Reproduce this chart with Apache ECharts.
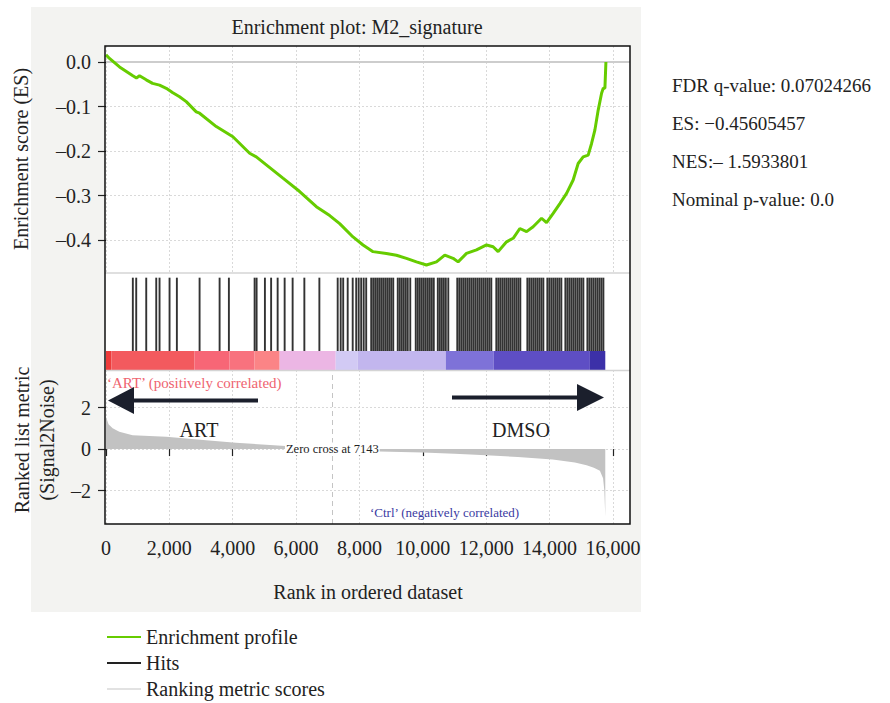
<!DOCTYPE html>
<html><head><meta charset="utf-8">
<script src="https://cdn.jsdelivr.net/npm/echarts@6/dist/echarts.min.js"></script>
<style>html,body{margin:0;padding:0;background:#fff;}#c{width:890px;height:703px;}</style>
</head><body><div id="c"></div>
<script>
// ---------- data ----------
const esRank = [0,110,427,847,960,1058,1270,1470,1690,1902,2110,2322,2533,2849,2954,3481,4006,4533,4744,5060,5585,6113,6640,7061,7376,7797,8113,8429,8851,9167,9483,9799,10115,10431,10693,10956,11114,11379,11695,12011,12220,12378,12643,12852,13063,13275,13483,13748,13906,14115,14326,14538,14746,14904,15062,15220,15327,15431,15536,15643,15695,15748,15780];
const esValue = [0.016,0.008,-0.011,-0.031,-0.036,-0.031,-0.040,-0.048,-0.052,-0.059,-0.069,-0.078,-0.089,-0.112,-0.115,-0.145,-0.168,-0.205,-0.213,-0.231,-0.261,-0.291,-0.325,-0.345,-0.363,-0.393,-0.411,-0.426,-0.430,-0.434,-0.441,-0.449,-0.456,-0.449,-0.434,-0.441,-0.449,-0.430,-0.422,-0.411,-0.415,-0.426,-0.404,-0.396,-0.374,-0.381,-0.370,-0.351,-0.361,-0.340,-0.318,-0.295,-0.265,-0.228,-0.213,-0.209,-0.183,-0.153,-0.108,-0.070,-0.059,-0.059,0.000];
const hitRanks = [847,954,1270,1586,1690,2006,2237,2954,3586,3879,4691,4754,5016,5212,5418,5639,5891,6261,6735,7313,7408,7487,7629,7787,
7898,7976,8055,8134,8213,8371,8435,8498,8561,8624,8687,8750,8814,8877,8940,9003,9067,9209,9272,9335,9398,9462,9525,9604,
9777,9841,9904,9967,10030,10093,10157,10220,10283,10346,10473,10536,10599,10662,10726,10804,
11088,11152,11215,11278,11341,11405,11468,11531,11594,11657,11721,11784,11847,11910,11973,12036,12099,12162,
12320,12383,12446,12510,12573,12636,12699,12762,12826,12889,12952,13015,13078,
13300,13363,13426,13489,13552,13615,13678,13742,13805,13931,13994,14058,14121,14184,14247,14310,14373,
14500,14563,14626,14689,14752,14815,14879,14942,15005,15068,15195,15258,15321,15384,15448,15511,15574,15637,15700];
const metricRank = [0,80,210,420,840,1900,3160,4100,5300,5900,6600,7143,7600,8640,10000,11000,12000,13000,14100,14800,15170,15400,15590,15690,15730,15760];
const metricValue = [1.55,1.2,1.0,0.83,0.67,0.59,0.43,0.3,0.19,0.12,0.05,0,-0.05,-0.12,-0.17,-0.22,-0.3,-0.38,-0.5,-0.65,-0.78,-0.9,-1.05,-1.4,-2.0,-3.25];
const barStart = [0,174,2796,3902,4691,5481,7250,7945,10725,12241,15274];
const barEnd   = [174,2796,3902,4691,5481,7250,7945,10725,12241,15274,15760];
const xTicks = [0,2000,4000,6000,8000,10000,12000,14000,16000];
const esTicks = [-0.4,-0.3,-0.2,-0.1,0];
const metricTicks = [-2,0,2];
const zeroCross = 7143;
const statLines = ['FDR q-value: 0.07024266','ES: \u22120.45605457','NES:\u2013 1.5933801','Nominal p-value: 0.0'];

// ---------- style ----------
const FONT = "'Liberation Serif','DejaVu Serif',serif";
const barColors = ['#ee3b3b','#f35a5e','#f76676','#f8727e','#fb8486','#ecb6e4','#d2caf4','#c2b6ee','#7e72d8','#5e4ec4','#3c30a8'];
const GREEN = '#66cc00';
const L = 106, W = 524, XMAX = 16540;
const fmtDash = v => (v < 0 ? '\u2013' : '') + Math.abs(v);

const chart = echarts.init(document.getElementById('c'), null, {renderer:'svg'});
const dotted = {show:true, lineStyle:{color:'#d9d9d9', type:[2,2], width:1}};
function xAx(i, showLab){
  return {type:'value', gridIndex:i, min:0, max:XMAX, interval:2000,
    axisLine:{show:false},
    axisTick:{show:showLab, length:7, lineStyle:{color:'#222', width:1.2}, customValues:xTicks},
    axisLabel:{show:showLab, fontSize:20, fontFamily:FONT, color:'#222', margin:14, customValues:xTicks,
      formatter:v=>v.toLocaleString('en-US')},
    splitLine:(i===0||i===3)?dotted:{show:false}};
}
const option = {
  animation:false,
  grid:[
    {left:L, top:46, width:W, height:227},
    {left:L, top:273, width:W, height:78},
    {left:L, top:351, width:W, height:19},
    {left:L, top:370, width:W, height:154}
  ],
  xAxis:[xAx(0,false), xAx(1,false), xAx(2,false), xAx(3,true)],
  yAxis:[
    {type:'value', gridIndex:0, min:-0.474, max:0.036, splitNumber:5,
      axisLine:{show:false},
      axisTick:{show:true, length:8, lineStyle:{color:'#222', width:1.2}, customValues:esTicks},
      axisLabel:{fontSize:20, fontFamily:FONT, color:'#222', margin:15, customValues:esTicks,
        formatter:v=>(v<-1e-9?'\u2013':'')+Math.abs(v).toFixed(1)},
      splitLine:dotted},
    {type:'value', gridIndex:1, min:0, max:1, show:false},
    {type:'value', gridIndex:2, min:0, max:1, show:false},
    {type:'value', gridIndex:3, min:-3.61, max:3.81, splitNumber:3,
      axisLine:{show:false},
      axisTick:{show:true, length:8, lineStyle:{color:'#222', width:1.2}, customValues:metricTicks},
      axisLabel:{fontSize:20, fontFamily:FONT, color:'#222', margin:15, customValues:metricTicks, formatter:fmtDash},
      splitLine:dotted}
  ],
  legend:{
    orient:'vertical', left:107, top:627, padding:0, itemGap:6, itemWidth:34, itemHeight:2, icon:'rect',
    textStyle:{fontSize:20, fontFamily:FONT, color:'#222'},
    data:[
      {name:'Enrichment profile', itemStyle:{color:GREEN}},
      {name:'Hits', itemStyle:{color:'#222'}},
      {name:'Ranking metric scores', itemStyle:{color:'#e2e2e2'}}
    ]
  },
  series:[
    {name:'Enrichment profile', type:'line', xAxisIndex:0, yAxisIndex:0, showSymbol:false, z:5,
      data:esRank.map((r,i)=>[r, esValue[i]]),
      lineStyle:{color:GREEN, width:3}, itemStyle:{color:GREEN},
      markLine:{silent:true, symbol:'none', label:{show:false},
        lineStyle:{color:'#cdcdcd', type:'solid', width:2}, data:[{yAxis:0}]}},
    {name:'Hits', type:'custom', xAxisIndex:1, yAxisIndex:1,
      data:hitRanks.map(r=>[r]), encode:{x:0},
      renderItem:(p, api)=>{
        const a = api.coord([api.value(0), 0]), b = api.coord([api.value(0), 0.94]);
        return {type:'line', shape:{x1:a[0], y1:a[1], x2:b[0], y2:b[1]},
          style:{stroke:'#000', lineWidth:1.9, opacity:0.8}};
      }},
    {name:'Colour bar', type:'custom', xAxisIndex:2, yAxisIndex:2,
      data:barStart.map((s,i)=>[s, barEnd[i], i]), encode:{x:[0,1]},
      renderItem:(p, api)=>{
        const a = api.coord([api.value(0), 1]), b = api.coord([api.value(1), 0]);
        return {type:'rect', shape:{x:a[0], y:a[1], width:b[0]-a[0], height:b[1]-a[1]},
          style:{fill:barColors[api.value(2)]}};
      }},
    {name:'Ranking metric scores', type:'line', xAxisIndex:3, yAxisIndex:3, showSymbol:false,
      data:metricRank.map((r,i)=>[r, metricValue[i]]),
      lineStyle:{width:0, color:'#c2c2c2'}, itemStyle:{color:'#c2c2c2'},
      areaStyle:{color:'#c2c2c2', opacity:1},
      markLine:{silent:true, symbol:'none', label:{show:false},
        lineStyle:{color:'#c4c4c4', type:[5,4], width:1}, data:[{xAxis:zeroCross}]},
      markPoint:{silent:true, symbol:'circle', symbolSize:0, z:10,
        label:{show:true, position:'inside', formatter:'Zero cross at '+zeroCross, fontSize:12.5, fontFamily:FONT, color:'#222',
          backgroundColor:'#ffffff', padding:[0,1]},
        data:[{coord:[zeroCross, 0]}]}}
  ],
  graphic:[
    {type:'rect', z:-10, silent:true, shape:{x:31, y:7, width:610, height:605}, style:{fill:'#f3f3f1'}},
    {type:'rect', z:-9, silent:true, shape:{x:105, y:46, width:525, height:478}, style:{fill:'#ffffff'}},
    {type:'line', z:50, silent:true, shape:{x1:105, y1:273, x2:630, y2:273}, style:{stroke:'#d4d4d4', lineWidth:1.5}},
    {type:'line', z:50, silent:true, shape:{x1:105, y1:370.5, x2:630, y2:370.5}, style:{stroke:'#d4d4d4', lineWidth:1.5}},
    {type:'rect', z:100, silent:true, shape:{x:105, y:46, width:525, height:478}, style:{fill:null, stroke:'#111', lineWidth:1.5}},
    {type:'text', silent:true, x:357, y:27, style:{text:'Enrichment plot: M2_signature', font:'20px '+FONT, fill:'#222', textAlign:'center', textVerticalAlign:'middle'}},
    {type:'text', silent:true, x:21, y:159, rotation:Math.PI/2, style:{text:'Enrichment score (ES)', font:'20px '+FONT, fill:'#222', textAlign:'center', textVerticalAlign:'middle'}},
    {type:'text', silent:true, x:34, y:440, rotation:Math.PI/2, style:{text:'Ranked list metric\n(Signal2Noise)', font:'20px '+FONT, lineHeight:25, fill:'#222', textAlign:'center', textVerticalAlign:'middle'}},
    {type:'text', silent:true, x:368, y:592, style:{text:'Rank in ordered dataset', font:'20px '+FONT, fill:'#222', textAlign:'center', textVerticalAlign:'middle'}},
    ...statLines.map((t,i)=>({type:'text', silent:true, x:672, y:85+i*38, style:{text:t, font:'19px '+FONT, fill:'#222', textAlign:'left', textVerticalAlign:'middle'}})),
    {type:'text', silent:true, x:107, y:383, z:60, style:{text:'\u2018ART\u2019 (positively correlated)', font:'15px '+FONT, fill:'#ef6470', textAlign:'left', textVerticalAlign:'middle'}},
    {type:'text', silent:true, x:370, y:512, z:60, style:{text:'\u2018Ctrl\u2019 (negatively correlated)', font:'13px '+FONT, fill:'#3a3aa2', textAlign:'left', textVerticalAlign:'middle'}},
    {type:'line', silent:true, z:60, shape:{x1:128, y1:400.5, x2:258, y2:400.5}, style:{stroke:'#1b1f2c', lineWidth:4}},
    {type:'polygon', silent:true, z:60, shape:{points:[[108,400.5],[134,387],[134,414]]}, style:{fill:'#1b1f2c'}},
    {type:'line', silent:true, z:60, shape:{x1:452, y1:397.5, x2:582, y2:397.5}, style:{stroke:'#1b1f2c', lineWidth:4}},
    {type:'polygon', silent:true, z:60, shape:{points:[[604,397.5],[577,384],[577,411]]}, style:{fill:'#1b1f2c'}},
    {type:'text', silent:true, x:199, y:430, z:60, style:{text:'ART', font:'20px '+FONT, fill:'#222', textAlign:'center', textVerticalAlign:'middle'}},
    {type:'text', silent:true, x:521, y:430, z:60, style:{text:'DMSO', font:'20px '+FONT, fill:'#222', textAlign:'center', textVerticalAlign:'middle'}}
  ]
};
chart.setOption(option);
</script></body></html>
